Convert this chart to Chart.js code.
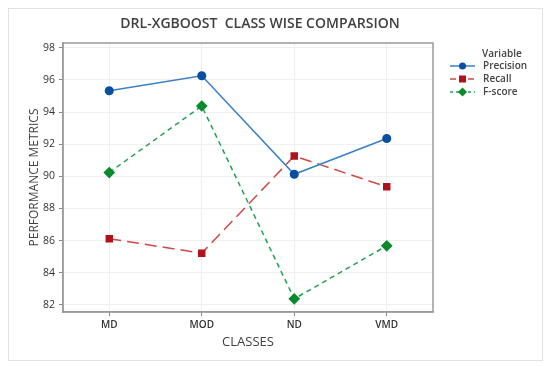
<!DOCTYPE html>
<html>
<head>
<meta charset="utf-8">
<script src="https://cdn.jsdelivr.net/npm/chart.js@4.4.0/dist/chart.umd.min.js"></script>
<style>
  html, body { margin: 0; padding: 0; background: #fff; }
  #wrap { position: relative; width: 550px; height: 367px; }
  #frame { position: absolute; left: 8px; top: 8px; width: 535px; height: 353px;
           border: 1px solid #e2e2e2; box-sizing: border-box; }
  canvas { position: absolute; left: 0; top: 0; }
</style>
</head>
<body>
<div id="wrap">
  <div id="frame"></div>
  <canvas id="chart" width="550" height="367"></canvas>
</div>
<script>
/* ── data ── */
const classes = ['MD', 'MOD', 'ND', 'VMD'];
const precision = [95.33, 96.26, 90.13, 92.36];
const recall = [86.12, 85.22, 91.27, 89.35];
const fscore = [90.24, 94.38, 82.38, 85.68];
const yTicks = [82, 84, 86, 88, 90, 92, 94, 96, 98];

const chartTitle = 'DRL-XGBOOST  CLASS WISE COMPARSION';
const legendTitle = 'Variable';

const txt = '#404040';

/* plot box, title and legend drawn on the canvas */
const extras = {
  id: 'extras',
  afterDatasetsDraw(chart) {
    const { ctx, chartArea: a } = chart;
    ctx.save();
    ctx.strokeStyle = '#9a9a9a';
    ctx.lineWidth = 1.5;
    ctx.strokeRect(a.left, a.top, a.right - a.left, a.bottom - a.top);
    ctx.restore();
  },
  afterDraw(chart) {
    const ctx = chart.ctx;
    ctx.save();
    // title
    ctx.fillStyle = txt;
    ctx.font = '600 14px "Open Sans"';
    ctx.textAlign = 'center';
    ctx.textBaseline = 'middle';
    ctx.fillText(chartTitle, 260, 24);

    // legend
    ctx.font = '600 10px "Open Sans"';
    ctx.textAlign = 'left';
    ctx.fillStyle = '#444';
    ctx.fillText(legendTitle, 482, 54);
    chart.data.datasets.forEach((ds, i) => {
      const y = 66 + i * 13;
      ctx.strokeStyle = ds.borderColor;
      ctx.lineWidth = 1.5;
      ctx.setLineDash(i === 0 ? [] : (i === 1 ? [6, 3] : [3, 3]));
      ctx.beginPath();
      ctx.moveTo(450, y);
      ctx.lineTo(475, y);
      ctx.stroke();
      ctx.setLineDash([]);
      ctx.fillStyle = ds.pointBackgroundColor;
      ctx.beginPath();
      if (ds.pointStyle === 'circle') {
        ctx.arc(462.5, y, 3.5, 0, Math.PI * 2);
      } else if (ds.pointStyle === 'rect') {
        ctx.rect(459, y - 3.5, 7, 7);
      } else {
        ctx.moveTo(462.5, y - 4.5);
        ctx.lineTo(467, y);
        ctx.lineTo(462.5, y + 4.5);
        ctx.lineTo(458, y);
        ctx.closePath();
      }
      ctx.fill();
      ctx.fillStyle = '#444';
      ctx.fillText(ds.label, 483, y);
    });
    ctx.restore();
  }
};

new Chart(document.getElementById('chart'), {
  type: 'line',
  data: {
    labels: classes,
    datasets: [
      {
        label: 'Precision',
        data: precision,
        borderColor: '#3a80c4',
        borderWidth: 1.5,
        pointStyle: 'circle',
        pointRadius: 3.8,
        pointBackgroundColor: '#0b4ea2',
        pointBorderColor: '#0b4ea2',
        tension: 0
      },
      {
        label: 'Recall',
        data: recall,
        borderColor: '#d04848',
        borderWidth: 1.5,
        borderDash: [12, 6],
        pointStyle: 'rect',
        pointRadius: 4.2,
        pointBackgroundColor: '#b0111b',
        pointBorderColor: '#b0111b',
        tension: 0
      },
      {
        label: 'F-score',
        data: fscore,
        borderColor: '#21a050',
        borderWidth: 1.5,
        borderDash: [5, 4],
        pointStyle: 'rectRot',
        pointRadius: 4.8,
        pointBackgroundColor: '#0a8a2c',
        pointBorderColor: '#0a8a2c',
        tension: 0
      }
    ]
  },
  options: {
    responsive: false,
    animation: false,
    layout: { padding: { left: 8, right: 117, top: 43, bottom: 0 } },
    plugins: {
      legend: { display: false },
      title: { display: false },
      tooltip: { enabled: false }
    },
    scales: {
      x: {
        offset: true,
        afterFit: s => { s.height = 55; },
        grid: { color: '#f0f0f0', tickLength: 4, tickColor: '#888', offset: false },
        border: { color: '#9a9a9a', width: 1.5 },
        ticks: { color: '#333', font: { family: 'Open Sans', size: 10, weight: '600' }, padding: 3 },
        title: {
          display: true, text: 'CLASSES', color: txt,
          font: { family: 'Open Sans', size: 13 },
          padding: { top: 0, bottom: 17 }
        }
      },
      y: {
        min: 81.56,
        max: 98.3,
        afterFit: s => { s.width = 55; },
        afterBuildTicks: s => { s.ticks = yTicks.map(v => ({ value: v })); },
        grid: { color: '#f0f0f0', tickLength: 4, tickColor: '#888' },
        border: { color: '#9a9a9a', width: 1.5 },
        ticks: { color: '#333', font: { family: 'Open Sans', size: 10.5 }, padding: 4 },
        title: {
          display: true, text: 'PERFORMANCE METRICS', color: txt,
          font: { family: 'Open Sans', size: 12 },
          padding: { top: 19, bottom: 0 }
        }
      }
    }
  },
  plugins: [extras]
});
</script>
</body>
</html>
